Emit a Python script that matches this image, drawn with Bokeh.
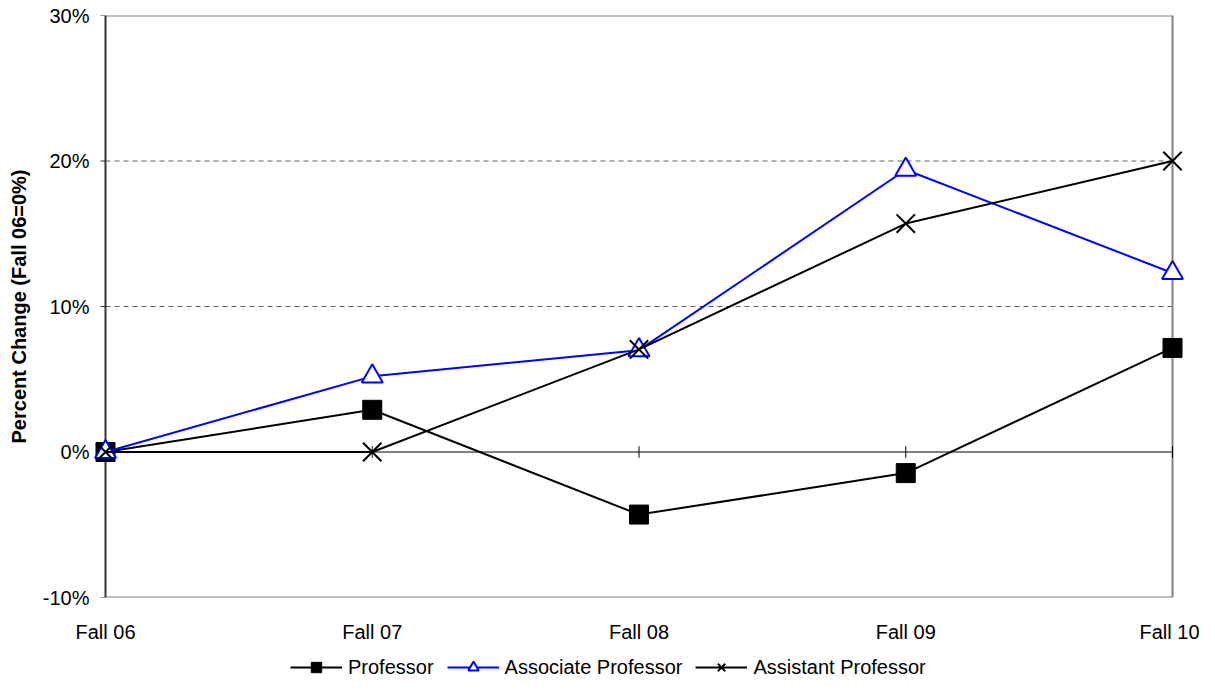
from bokeh.plotting import figure
from bokeh.models import FixedTicker, Legend, LegendItem
from bokeh.layouts import column
from bokeh.embed import file_html
from bokeh.resources import INLINE

categories = ["Fall 06", "Fall 07", "Fall 08", "Fall 09", "Fall 10"]
professor = [0.0, 2.9, -4.3, -1.45, 7.15]
associate = [0.0, 5.2, 7.0, 19.4, 12.3]
assistant = [0.0, 0.0, 7.05, 15.7, 20.0]
y_ticks = [-10, 0, 10, 20, 30]
y_tick_labels = ["-10%", "0%", "10%", "20%", "30%"]
grid_levels = [10, 20]
series_names = ["Professor", "Associate Professor", "Assistant Professor"]

FONT = "Liberation Sans"
BLUE = "#0000FF"
x = list(range(len(categories)))
xs0, xs1 = x[0], x[-1]
ymin, ymax = y_ticks[0], y_ticks[-1]
pad = 0.0487

p = figure(width=1199, height=650, x_range=(xs0 - pad, xs1 + pad), y_range=(ymin, ymax),
           output_backend="svg", toolbar_location=None,
           min_border_left=92, min_border_right=14, min_border_top=15, min_border_bottom=53)
p.outline_line_color = None
p.xgrid.visible = False
p.ygrid.visible = False

# dashed gridlines
p.segment(x0=[xs0] * len(grid_levels), y0=grid_levels, x1=[xs1] * len(grid_levels), y1=grid_levels,
          line_color="#606060", line_dash="5 4", line_width=1)
# frame borders (top, bottom, right) in gray
p.segment(x0=[xs0, xs0, xs1], y0=[ymax, ymin, ymin], x1=[xs1, xs1, xs1], y1=[ymax, ymin, ymax],
          line_color="#808080", line_width=2)
# zero line
p.segment(x0=[xs0], y0=[0], x1=[xs1], y1=[0], line_color="#808080", line_width=2)
# category ticks crossing the zero line
p.segment(x0=x, y0=[-0.4] * len(x), x1=x, y1=[0.4] * len(x), line_color="black", line_width=1)
# left axis line and ticks
p.segment(x0=[xs0], y0=[ymin], x1=[xs0], y1=[ymax], line_color="#333333", line_width=2)
p.segment(x0=[xs0 - 0.019] * len(y_ticks), y0=y_ticks, x1=[xs0] * len(y_ticks), y1=y_ticks,
          line_color="#333333", line_width=1)

p.line(x, professor, line_color="black", line_width=2)
p.scatter(x, professor, marker="square", size=19, fill_color="black", line_color="black")
p.line(x, associate, line_color=BLUE, line_width=2)
p.scatter(x, associate, marker="triangle", size=21, fill_color="white", line_color=BLUE, line_width=2)
p.line(x, assistant, line_color="black", line_width=2)
p.scatter(x, assistant, marker="x", size=26, line_color="black", line_width=2)

p.yaxis.ticker = FixedTicker(ticks=y_ticks)
p.yaxis.major_label_overrides = {t: lab for t, lab in zip(y_ticks, y_tick_labels)}
p.yaxis.axis_line_color = None
p.yaxis.major_tick_out = 0
p.yaxis.major_tick_in = 0
p.yaxis.minor_tick_out = 0
p.yaxis.minor_tick_in = 0
p.yaxis.major_label_standoff = 3
p.yaxis.major_label_text_font = FONT
p.yaxis.major_label_text_font_size = "20px"
p.yaxis.major_label_text_color = "black"
p.yaxis.axis_label = "Percent Change (Fall 06=0%)"
p.yaxis.axis_label_text_font = FONT
p.yaxis.axis_label_text_font_size = "20px"
p.yaxis.axis_label_text_font_style = "bold"
p.yaxis.axis_label_text_color = "black"
p.yaxis.axis_label_standoff = 10

p.xaxis.ticker = FixedTicker(ticks=x)
p.xaxis.major_label_overrides = {i: c for i, c in zip(x, categories)}
p.xaxis.axis_line_color = None
p.xaxis.major_tick_out = 0
p.xaxis.major_tick_in = 0
p.xaxis.minor_tick_out = 0
p.xaxis.minor_tick_in = 0
p.xaxis.major_label_standoff = 23
p.xaxis.major_label_text_font = FONT
p.xaxis.major_label_text_font_size = "20px"
p.xaxis.major_label_text_color = "black"

# legend strip below the chart; its renderers hold the series but sit outside its view
lg = figure(width=1199, height=30, x_range=(-100, -99), y_range=(-100, -99), output_backend="svg",
            toolbar_location=None, x_axis_location=None, y_axis_location=None,
            min_border_left=0, min_border_right=0, min_border_top=0, min_border_bottom=0)
lg.xgrid.visible = False
lg.ygrid.visible = False
lg.outline_line_color = None
r1 = [lg.line(x, professor, line_color="black", line_width=2),
      lg.scatter(x, professor, marker="square", fill_color="black", line_color="black")]
r2 = [lg.line(x, associate, line_color=BLUE, line_width=2),
      lg.scatter(x, associate, marker="triangle", fill_color="white", line_color=BLUE, line_width=2)]
r3 = [lg.line(x, assistant, line_color="black", line_width=2),
      lg.scatter(x, assistant, marker="x", line_color="black", line_width=2)]
legend = Legend(items=[LegendItem(label=n, renderers=r) for n, r in zip(series_names, [r1, r2, r3])],
                orientation="horizontal", location=(198, 0),
                border_line_color=None, background_fill_alpha=0,
                label_text_font=FONT, label_text_font_size="20px", label_text_color="black",
                glyph_width=52, glyph_height=26, label_height=20, label_standoff=6,
                spacing=13, padding=0, margin=0)
lg.add_layout(legend, "center")

open("out.html", "w").write(file_html(column(p, lg, spacing=0), INLINE))
